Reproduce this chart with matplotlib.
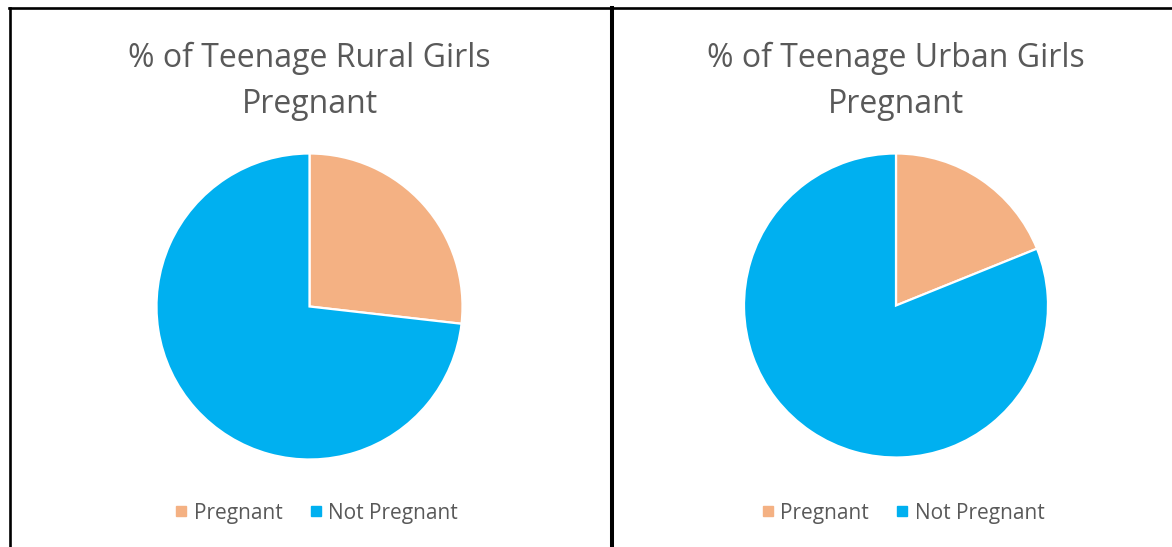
import matplotlib
matplotlib.use("Agg")
import matplotlib.pyplot as plt
from matplotlib.lines import Line2D

# data
labels = ["Pregnant", "Not Pregnant"]
rural_share = [26.8, 73.2]
urban_share = [18.9, 81.1]
titles = ["% of Teenage Rural Girls\nPregnant", "% of Teenage Urban Girls\nPregnant"]
colors = ["#F4B183", "#00B0F0"]

W, H = 1172, 547
fig = plt.figure(figsize=(W / 100, H / 100), dpi=100)
plt.rcParams['font.family'] = ['Open Sans', 'DejaVu Sans']


def fx(x):
    return x / W


def fy(y):
    return 1 - y / H


# pie centre (px), radius (px)
panels = [
    (rural_share, titles[0], 309.5, 306.5, 153),
    (urban_share, titles[1], 896.0, 305.5, 152),
]

for share, title, cx, cy, r in panels:
    ax = fig.add_axes([fx(cx - r), fy(cy + r), (2 * r) / W, (2 * r) / H])
    ax.pie(share, colors=colors, startangle=90, counterclock=False,
           radius=1, wedgeprops=dict(edgecolor="white", linewidth=1.6))
    ax.set_xlim(-1, 1)
    ax.set_ylim(-1, 1)
    ax.set_aspect("auto")
    ax.axis("off")

    for i, line in enumerate(title.split("\n")):
        fig.text(fx(cx), fy(66.5 + 46.5 * i), line, ha="center", va="baseline",
                 fontsize=23, color="#595959")

    handles = [Line2D([], [], marker="s", linestyle="none", markersize=6.5,
                      markerfacecolor=c, markeredgecolor=c) for c in colors]
    fig.legend(handles, labels, loc="center", bbox_to_anchor=(fx(cx + 5), fy(513)),
               ncol=2, frameon=False, fontsize=15, labelcolor="#595959",
               handletextpad=0.1, columnspacing=1.1, handlelength=1.0)

# table borders
fig.add_artist(Line2D([fx(9), 1], [fy(8), fy(8)], color="black", lw=1.9))
fig.add_artist(Line2D([fx(10), fx(10)], [fy(8), 0], color="black", lw=1.9))
fig.add_artist(Line2D([fx(612), fx(612)], [fy(8), 0], color="black", lw=2.9))

fig.savefig("out.png", dpi=100)
